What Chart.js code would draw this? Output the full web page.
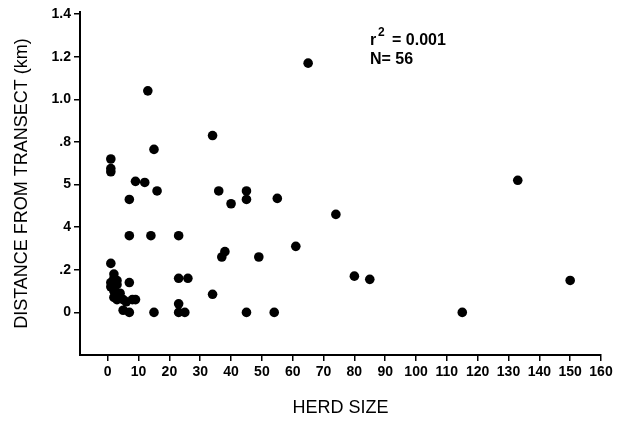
<!DOCTYPE html>
<html>
<head>
<meta charset="utf-8">
<script src="https://cdn.jsdelivr.net/npm/chart.js@4/dist/chart.umd.min.js"></script>
<style>
  html, body { margin: 0; padding: 0; background: #fff; }
</style>
</head>
<body>
<canvas id="herdCanvas" width="617" height="423"></canvas>
<script>
// herd size vs distance from transect, N = 56
const herdSize = [
  65, 13, 34, 15, 1, 1, 1, 9, 12, 16, 36, 45, 45, 55, 40, 7, 133, 74,
  7, 14, 23, 61, 38, 37, 49, 1, 80, 85, 150, 23, 26, 7, 34, 23,
  15, 23, 25, 45, 54, 115, 8, 5, 7,
  1, 2, 2, 3, 1, 3, 2, 4, 2, 3, 5, 6, 9
];
const distanceKm = [
  1.17, 1.04, 0.83, 0.765, 0.72, 0.675, 0.66, 0.615, 0.61, 0.57, 0.57, 0.57, 0.53, 0.535, 0.51, 0.53, 0.62, 0.46,
  0.36, 0.36, 0.36, 0.31, 0.285, 0.26, 0.26, 0.23, 0.17, 0.155, 0.15, 0.16, 0.16, 0.14, 0.085, 0.04,
  0, 0, 0, 0, 0, 0, 0.06, 0.01, 0,
  0.14, 0.18, 0.16, 0.15, 0.12, 0.13, 0.10, 0.09, 0.07, 0.06, 0.06, 0.05, 0.06
];
const xTicks = [0, 10, 20, 30, 40, 50, 60, 70, 80, 90, 100, 110, 120, 130, 140, 150, 160];
const yTicks = [0, 0.2, 0.4, 0.6, 0.8, 1.0, 1.2, 1.4];
const yTickLabels = ['0', '.2', '4', '5', '.8', '1.0', '1.2', '1.4'];
const rSquared = '0.001';
const sampleN = '56';

const FONT = '"Liberation Sans", Arial, sans-serif';

// r^2 and N text in the upper right
const statsPlugin = {
  id: 'stats',
  afterDraw(chart) {
    const ctx = chart.ctx;
    const x0 = chart.chartArea.left + 290;
    const y0 = chart.chartArea.top + 33;
    ctx.save();
    ctx.fillStyle = '#000';
    ctx.textBaseline = 'alphabetic';
    ctx.font = 'bold 16px ' + FONT;
    ctx.fillText('r', x0, y0);
    ctx.fillText('= ' + rSquared, x0 + 22, y0);
    ctx.fillText('N= ' + sampleN, x0, y0 + 19);
    ctx.font = 'bold 12px ' + FONT;
    ctx.fillText('2', x0 + 8, y0 - 9);
    ctx.restore();
  }
};

const points = herdSize.map((h, i) => ({ x: h, y: distanceKm[i] }));

new Chart(document.getElementById('herdCanvas').getContext('2d'), {
  type: 'scatter',
  data: {
    datasets: [{
      data: points,
      backgroundColor: '#000',
      borderWidth: 0,
      pointRadius: 4.8,
      pointHoverRadius: 4.8
    }]
  },
  options: {
    responsive: false,
    animation: false,
    devicePixelRatio: 1,
    layout: { padding: { top: 12, right: 16, bottom: 0, left: 0 } },
    plugins: {
      legend: { display: false },
      tooltip: { enabled: false }
    },
    scales: {
      x: {
        type: 'linear',
        min: -9,
        max: 160,
        afterBuildTicks: s => { s.ticks = xTicks.map(v => ({ value: v })); },
        afterFit: s => { s.height = 68; },
        grid: { display: true, drawOnChartArea: false, drawTicks: true, tickLength: 6, color: '#000', lineWidth: 1.5 },
        border: { display: true, color: '#000', width: 2 },
        ticks: { color: '#000', font: { family: FONT, size: 14, weight: 'bold' }, padding: 3, autoSkip: false, maxRotation: 0 },
        title: { display: true, text: 'HERD SIZE', color: '#000', font: { family: FONT, size: 18 }, padding: { top: 0, bottom: 4 } }
      },
      y: {
        type: 'linear',
        min: -0.2,
        max: 1.41,
        afterBuildTicks: s => { s.ticks = yTicks.map(v => ({ value: v })); },
        afterFit: s => { s.width = 80; },
        grid: { display: true, drawOnChartArea: false, drawTicks: true, tickLength: 6, color: '#000', lineWidth: 1.5 },
        border: { display: true, color: '#000', width: 2 },
        ticks: {
          color: '#000',
          font: { family: FONT, size: 14, weight: 'bold' },
          padding: 3,
          autoSkip: false,
          callback: (v, i) => yTickLabels[i]
        },
        title: { display: true, text: 'DISTANCE FROM TRANSECT (km)', color: '#000', font: { family: FONT, size: 18 }, padding: { top: 11, bottom: 0 } }
      }
    }
  },
  plugins: [statsPlugin]
});
</script>
</body>
</html>
